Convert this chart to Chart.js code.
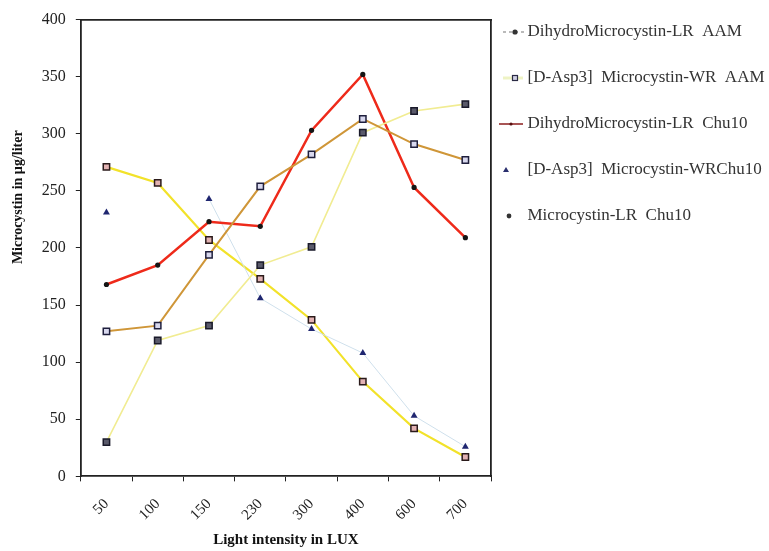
<!DOCTYPE html>
<html>
<head>
<meta charset="utf-8">
<script src="https://cdn.jsdelivr.net/npm/chart.js@4.4.1/dist/chart.umd.min.js"></script>
<style>
  html, body { margin: 0; padding: 0; background: #fff; }
  #chartContainer { width: 769px; height: 551px; }
</style>
</head>
<body>
<div id="chartContainer"><canvas id="Chart1"></canvas></div>
<script>
// DATA

// light intensity categories (LUX)
const luxLabels = ['50', '100', '150', '230', '300', '400', '600', '700'];

// microcystin in µg/liter
const dihydroLrAam = [127, 132, 194, 254, 282, 313, 291, 277];
const aspWrAam = [30, 119, 132, 185, 201, 301, 320, 326];
const dihydroLrChu10 = [168, 185, 223, 219, 303, 352, 253, 209];
const aspWrChu10 = [231, null, 243, 156, 129, 108, 53, 26];
const microLrChu10 = [271, 257, 207, 173, 137, 83, 42, 17];

const seriesNames = [
    'DihydroMicrocystin-LR  AAM',
    '[D-Asp3]  Microcystin-WR  AAM',
    'DihydroMicrocystin-LR  Chu10',
    '[D-Asp3]  Microcystin-WRChu10',
    'Microcystin-LR  Chu10'
];

const yMin = 0;
const yMax = 400;
const yStep = 50;

// ----------------------------------------------------------------------------

const serif = "'Liberation Serif', 'Times New Roman', serif";
const ink = '#222';

// draws the small legend symbols (the legend box itself is left empty)
const legendSymbols = {
    id: 'legendSymbols',
    afterDraw(chart) {
        const c = chart.ctx;
        const boxes = chart.legend.legendHitBoxes;
        boxes.forEach((b, i) => {
            const cx = b.left + 24;
            const cy = b.top + b.height / 2;
            c.save();
            if (i === 0) {
                c.strokeStyle = '#777';
                c.lineWidth = 1.2;
                c.setLineDash([3, 3]);
                c.beginPath(); c.moveTo(cx - 12, cy); c.lineTo(cx + 12, cy); c.stroke();
                c.setLineDash([]);
                c.fillStyle = '#333';
                c.beginPath(); c.arc(cx, cy, 2.6, 0, Math.PI * 2); c.fill();
            } else if (i === 1) {
                c.strokeStyle = '#eef3c4';
                c.lineWidth = 3;
                c.beginPath(); c.moveTo(cx - 12, cy); c.lineTo(cx + 8, cy); c.stroke();
                c.fillStyle = '#d0d0e6';
                c.strokeStyle = '#2a2a44';
                c.lineWidth = 1.2;
                c.fillRect(cx - 2.5, cy - 2.5, 5, 5);
                c.strokeRect(cx - 2.5, cy - 2.5, 5, 5);
            } else if (i === 2) {
                c.strokeStyle = '#8b1d1d';
                c.lineWidth = 1.5;
                c.beginPath(); c.moveTo(cx - 16, cy); c.lineTo(cx + 8, cy); c.stroke();
                c.fillStyle = '#5a1010';
                c.beginPath(); c.arc(cx - 4, cy, 1.6, 0, Math.PI * 2); c.fill();
            } else if (i === 3) {
                c.fillStyle = '#2a2f6e';
                c.beginPath(); c.moveTo(cx - 9, cy - 3); c.lineTo(cx - 6, cy + 2); c.lineTo(cx - 12, cy + 2); c.closePath(); c.fill();
            } else {
                c.fillStyle = '#333';
                c.beginPath(); c.arc(cx - 6, cy, 2.4, 0, Math.PI * 2); c.fill();
            }
            c.restore();
        });
    }
};

const ctx = document.getElementById('Chart1').getContext('2d');
const Chart1 = new Chart(ctx, {
    type: 'line',
    data: {
        labels: luxLabels,
        datasets: [
            {
                label: seriesNames[0],
                data: dihydroLrAam,
                borderColor: '#cf9638',
                borderWidth: 2,
                pointStyle: 'rect',
                pointRadius: 4.5,
                pointBorderWidth: 1.5,
                pointBorderColor: '#1f1f3d',
                pointBackgroundColor: '#d8d8ee'
            },
            {
                label: seriesNames[1],
                data: aspWrAam,
                borderColor: '#f1ec92',
                borderWidth: 1.6,
                pointStyle: 'rect',
                pointRadius: 4.5,
                pointBorderWidth: 1.5,
                pointBorderColor: '#1a1a2a',
                pointBackgroundColor: '#5a5a6a'
            },
            {
                label: seriesNames[2],
                data: dihydroLrChu10,
                borderColor: '#ee2a1a',
                borderWidth: 2.5,
                pointStyle: 'circle',
                pointRadius: 2.6,
                pointBorderWidth: 0,
                pointBackgroundColor: '#151515'
            },
            {
                label: seriesNames[3],
                data: aspWrChu10,
                borderColor: '#cfe0ec',
                borderWidth: 1,
                pointStyle: 'triangle',
                pointRadius: 4,
                pointBorderWidth: 0,
                pointBackgroundColor: '#1f2670',
                spanGaps: false
            },
            {
                label: seriesNames[4],
                data: microLrChu10,
                borderColor: '#f2e22a',
                borderWidth: 2.2,
                pointStyle: 'rect',
                pointRadius: 4.5,
                pointBorderWidth: 1.5,
                pointBorderColor: '#2a1a1a',
                pointBackgroundColor: '#e2b2b2'
            }
        ]
    },
    options: {
        responsive: true,
        maintainAspectRatio: false,
        animation: false,
        layout: {
            padding: { top: 9, right: 0, bottom: 0, left: 2 }
        },
        plugins: {
            tooltip: { enabled: false },
            legend: {
                display: true,
                position: 'right',
                align: 'start',
                maxWidth: 278,
                labels: {
                    font: { family: serif, size: 17 },
                    color: '#333',
                    boxWidth: 28,
                    boxHeight: 46,
                    padding: 0,
                    generateLabels: function(chart) {
                        const items = Chart.defaults.plugins.legend.labels.generateLabels(chart);
                        items.forEach(it => {
                            it.fillStyle = 'rgba(0,0,0,0)';
                            it.strokeStyle = 'rgba(0,0,0,0)';
                            it.lineWidth = 0;
                        });
                        return items;
                    }
                }
            }
        },
        scales: {
            x: {
                offset: true,
                grid: {
                    offset: true,
                    drawOnChartArea: false,
                    drawTicks: true,
                    tickLength: 5,
                    color: ink
                },
                border: { color: ink, width: 1.8 },
                ticks: {
                    minRotation: 45,
                    maxRotation: 45,
                    padding: 14,
                    font: { family: serif, size: 15 },
                    color: ink
                },
                title: {
                    display: true,
                    text: 'Light intensity in LUX',
                    font: { family: serif, size: 15, weight: 'bold' },
                    color: '#111',
                    padding: { top: -7, bottom: 2 }
                }
            },
            y: {
                min: yMin,
                max: yMax,
                ticks: {
                    stepSize: yStep,
                    padding: 10,
                    font: { family: serif, size: 16 },
                    color: ink
                },
                grid: {
                    drawOnChartArea: false,
                    drawTicks: true,
                    tickLength: 5,
                    color: ink
                },
                border: { color: ink, width: 1.8 },
                title: {
                    display: true,
                    text: ' '.repeat(29) + 'Microcystin in \u00b5g/liter',
                    font: { family: serif, size: 14, weight: 'bold' },
                    color: '#111',
                    padding: { top: 8, bottom: 5 }
                }
            },
            xTop: {
                type: 'category',
                position: 'top',
                labels: luxLabels,
                offset: true,
                ticks: { display: false },
                grid: { drawOnChartArea: false, drawTicks: false },
                border: { color: ink, width: 1.8 }
            },
            yRight: {
                type: 'linear',
                position: 'right',
                min: yMin,
                max: yMax,
                ticks: { display: false },
                grid: { drawOnChartArea: false, drawTicks: false },
                border: { color: ink, width: 1.8 }
            }
        }
    },
    plugins: [legendSymbols]
});
</script>
</body>
</html>
